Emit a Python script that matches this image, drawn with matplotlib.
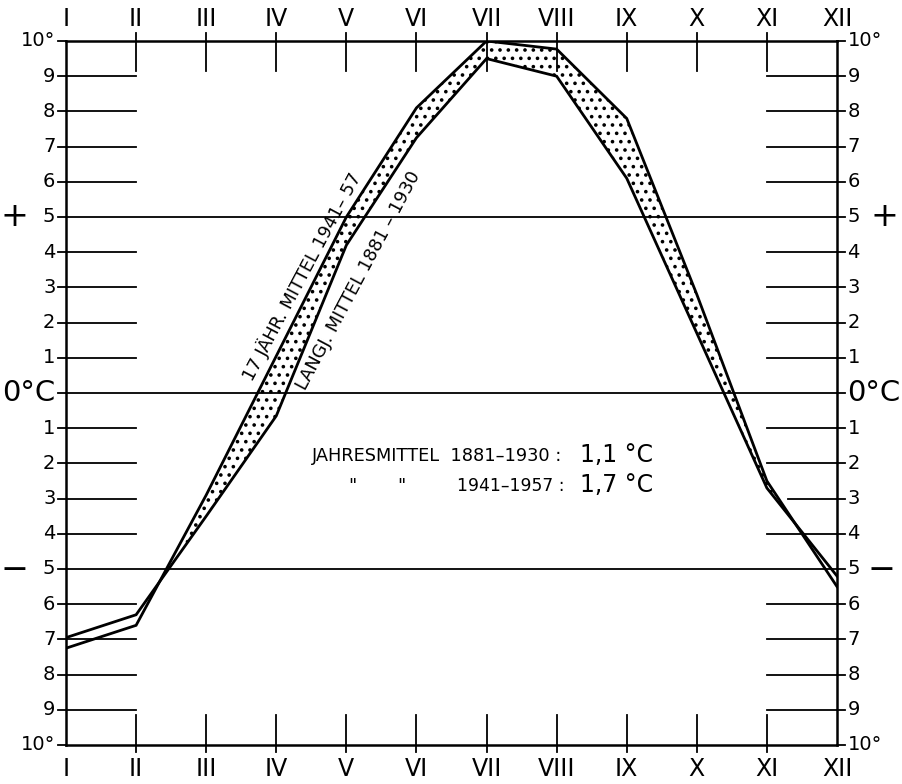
import numpy as np
import matplotlib
matplotlib.use("Agg")
import matplotlib.pyplot as plt

# monthly means in deg C
months = ["I", "II", "III", "IV", "V", "VI", "VII", "VIII", "IX", "X", "XI", "XII"]
t_1941_57 = [-7.25, -6.6, -2.9, 1.05, 5.0, 8.1, 10.0, 9.77, 7.8, 2.8, -2.5, -5.5]
t_1881_1930 = [-6.95, -6.3, -3.5, -0.65, 4.2, 7.25, 9.5, 9.0, 6.1, 1.7, -2.7, -5.2]
y_labels = ["10°", "9", "8", "7", "6", "5", "4", "3", "2", "1", "0°C",
            "1", "2", "3", "4", "5", "6", "7", "8", "9", "10°"]
y_values = list(range(10, -11, -1))

plt.rcParams['font.family'] = ['Liberation Sans Narrow', 'DejaVu Sans']
plt.rcParams['hatch.linewidth'] = 1.4

fig = plt.figure(figsize=(9.02, 7.84), dpi=100)
ax = fig.add_axes([66 / 902, 1 - 745 / 784, (837 - 66) / 902, (745 - 41) / 784])
ax.set_xlim(0, 11)
ax.set_ylim(-10, 10)
ax.axis('off')

x = np.arange(len(months))
a = np.array(t_1941_57)
b = np.array(t_1881_1930)

# frame and main grid lines
lw_frame = 1.8
for v in [10, 5, 0, -5, -10]:
    ax.plot([0, 11], [v, v], color='black', lw=lw_frame if abs(v) == 10 else 1.3, clip_on=False)
ax.plot([0, 0], [-10, 10], color='black', lw=lw_frame, clip_on=False)
ax.plot([11, 11], [-10, 10], color='black', lw=lw_frame, clip_on=False)

# short lines on both sides
for v in y_values:
    if v % 5 == 0:
        continue
    ax.plot([0, 1], [v, v], color='black', lw=1.3)
    start = 10.3 if v == -3 else 10
    ax.plot([start, 11], [v, v], color='black', lw=1.3)

# small tick marks outside the frame
for v in y_values:
    ax.plot([-0.115, 0], [v, v], color='black', lw=1.3, clip_on=False)
    ax.plot([11, 11.115], [v, v], color='black', lw=1.3, clip_on=False)

# month ticks top and bottom
for i in range(1, 11):
    ax.plot([i, i], [10.23, 9.15], color='black', lw=1.3, clip_on=False)
    ax.plot([i, i], [-10.2, -9.15], color='black', lw=1.3, clip_on=False)

# month labels
for i, m in enumerate(months):
    ax.text(i, 10.62, m, ha='center', va='center', fontsize=17, clip_on=False)
    ax.text(i, -10.68, m, ha='center', va='center', fontsize=17, clip_on=False)

# degree labels
for v, lab in zip(y_values, y_labels):
    fs = 21 if lab == "0°C" else 14
    ax.text(-0.15, v, lab, ha='right', va='center', fontsize=fs, clip_on=False)
    ax.text(11.15, v, lab, ha='left', va='center', fontsize=fs, clip_on=False)

ax.text(-0.74, 5, "+", ha='center', va='center', fontsize=24, clip_on=False)
ax.text(-0.74, -5, "−", ha='center', va='center', fontsize=24, clip_on=False)
ax.text(11.67, 5, "+", ha='center', va='center', fontsize=24, clip_on=False)
ax.text(11.64, -5, "−", ha='center', va='center', fontsize=24, clip_on=False)

# stippled band where the recent period is warmer
ax.fill_between(x, a, b, where=a >= b, interpolate=True,
                facecolor='none', edgecolor='black', hatch='..', lw=0)
ax.plot(x, a, color='black', lw=2.0, solid_joinstyle='miter')
ax.plot(x, b, color='black', lw=2.0, solid_joinstyle='miter')

# curve labels
ax.text(3.37, 3.32, "17 JÄHR. MITTEL 1941– 57", rotation=62, ha='center', va='center',
        fontsize=12.8, rotation_mode='anchor')
ax.text(4.17, 3.18, "LANGJ. MITTEL 1881 – 1930", rotation=62, ha='center', va='center',
        fontsize=12.8, rotation_mode='anchor')

# annual means
ax.text(3.51, -1.8, "JAHRESMITTEL  1881–1930 :", ha='left', va='center', fontsize=12.8)
ax.text(4.08, -2.65, '"', ha='center', va='center', fontsize=12.8)
ax.text(4.79, -2.65, '"', ha='center', va='center', fontsize=12.8)
ax.text(5.58, -2.65, "1941–1957 :", ha='left', va='center', fontsize=12.3)
ax.text(7.33, -1.75, "1,1 °C", ha='left', va='center', fontsize=17)
ax.text(7.33, -2.6, "1,7 °C", ha='left', va='center', fontsize=17)

fig.savefig("out.png", dpi=100, facecolor='white')
